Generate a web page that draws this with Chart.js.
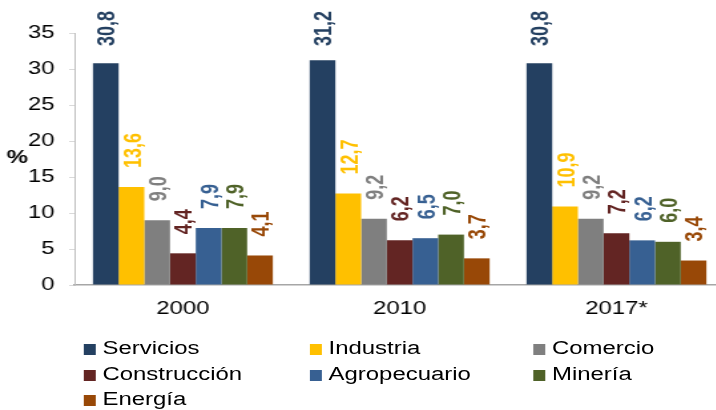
<!DOCTYPE html>
<html lang="es">
<head>
<meta charset="UTF-8" />
<title>Participación por sector</title>
<style>
  html, body {
    margin: 0;
    padding: 0;
    background: #fff;
    overflow: hidden;
    width: 716px;
    height: 410px;
  }
  /* el original está estirado en horizontal, se reproduce con scaleX */
  #wrap {
    position: absolute;
    left: 0;
    top: 0;
    width: 545px;
    height: 410px;
    transform: scaleX(1.33);
    transform-origin: 0 0;
    font-family: "Liberation Sans", Arial, sans-serif;
  }
  #chart {
    position: absolute;
    left: 0;
    top: 0;
  }
  .legend-item {
    position: absolute;
    font-size: 18px;
    color: #000;
    white-space: nowrap;
    line-height: 22px;
    height: 22px;
  }
  .legend-item .box {
    display: inline-block;
    width: 9px;
    height: 11px;
    margin-right: 5px;
    vertical-align: -1px;
  }
</style>
<script src="https://cdn.jsdelivr.net/npm/chart.js"></script>
</head>
<body>
<div id="wrap">
  <canvas id="chart" width="545" height="325"></canvas>
  <div id="legend"></div>
</div>

<script>
  const categories = ['2000', '2010', '2017*'];
  const seriesNames = ['Servicios', 'Industria', 'Comercio', 'Construcción', 'Agropecuario', 'Minería', 'Energía'];
  const seriesColors = ['#244061', '#FFC000', '#7F7F7F', '#632523', '#376092', '#4F6228', '#984807'];

  const servicios    = [30.8, 31.2, 30.8];
  const industria    = [13.6, 12.7, 10.9];
  const comercio     = [9.0, 9.2, 9.2];
  const construccion = [4.4, 6.2, 7.2];
  const agropecuario = [7.9, 6.5, 6.2];
  const mineria      = [7.9, 7.0, 6.0];
  const energia      = [4.1, 3.7, 3.4];

  const yTicks = [0, 5, 10, 15, 20, 25, 30, 35];

  const seriesValues = [servicios, industria, comercio, construccion, agropecuario, mineria, energia];
  const FONT = '"Liberation Sans", Arial, sans-serif';

  // etiquetas verticales encima de cada barra + el "%" del eje
  const barLabels = {
    id: 'barLabels',
    afterDatasetsDraw(chart) {
      const ctx = chart.ctx;
      ctx.save();
      ctx.font = 'bold 18px ' + FONT;
      ctx.textAlign = 'left';
      ctx.textBaseline = 'middle';
      chart.data.datasets.forEach((ds, i) => {
        const meta = chart.getDatasetMeta(i);
        meta.data.forEach((bar, j) => {
          const txt = ds.data[j].toFixed(1).replace('.', ',');
          const w = ctx.measureText(txt).width;
          // separación de la barra, sin salirse por arriba
          let start = bar.y - 19;
          if (start - w < 11) start = 11 + w;
          ctx.save();
          ctx.translate(bar.x, start);
          ctx.rotate(-Math.PI / 2);
          ctx.fillStyle = ds.backgroundColor;
          ctx.fillText(txt, 0, 2);
          ctx.restore();
        });
      });
      ctx.fillStyle = '#000';
      ctx.textAlign = 'center';
      ctx.fillText('%', 13, 158);
      ctx.restore();
    }
  };

  const ctx = document.getElementById('chart').getContext('2d');
  new Chart(ctx, {
    type: 'bar',
    data: {
      labels: categories,
      datasets: seriesNames.map((name, i) => ({
        label: name,
        data: seriesValues[i],
        backgroundColor: seriesColors[i],
        borderWidth: 0,
        categoryPercentage: 0.83,
        barPercentage: 1.0
      }))
    },
    options: {
      responsive: false,
      animation: false,
      layout: { padding: { top: 33, right: 0, bottom: 0, left: 0 } },
      plugins: {
        legend: { display: false },
        tooltip: { enabled: false }
      },
      scales: {
        x: {
          grid: { display: false, drawTicks: false },
          border: { display: true, color: '#A6A6A6', width: 1.5 },
          ticks: { color: '#000', font: { family: FONT, size: 18 }, padding: 13 },
          afterFit(scale) { scale.height = 40; }
        },
        y: {
          min: 0,
          max: 35,
          afterBuildTicks(scale) { scale.ticks = yTicks.map(v => ({ value: v })); },
          grid: { drawOnChartArea: false, drawTicks: true, tickLength: 4, color: '#D9D9D9' },
          border: { display: true, color: '#BFBFBF', width: 1 },
          ticks: { color: '#000', font: { family: FONT, size: 18 }, padding: 11 },
          afterFit(scale) { scale.width = 56; }
        }
      }
    },
    plugins: [barLabels]
  });

  // leyenda en tres columnas
  const legendCols = [63, 233, 401];
  const legendRows = [337, 363, 388];
  const legend = document.getElementById('legend');
  seriesNames.forEach((name, i) => {
    const item = document.createElement('div');
    item.className = 'legend-item';
    item.style.left = legendCols[i % 3] + 'px';
    item.style.top = legendRows[Math.floor(i / 3)] + 'px';
    const box = document.createElement('span');
    box.className = 'box';
    box.style.background = seriesColors[i];
    item.appendChild(box);
    item.appendChild(document.createTextNode(name));
    legend.appendChild(item);
  });
</script>
</body>
</html>
